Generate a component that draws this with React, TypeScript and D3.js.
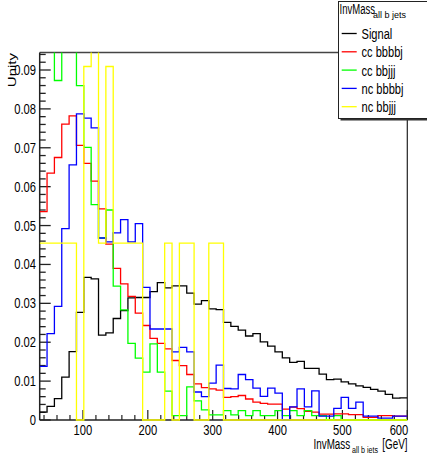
import React from "react";
import * as d3 from "d3";

// Histogram binning (GeV)
const X_MIN = 33.333;
const X_MAX = 600;
const N_BINS = 50;
const Y_MAX = 0.0945;

const seriesNames = ["Signal", "cc bbbbj", "cc bbjjj", "nc bbbbj", "nc bbjjj"];
const seriesColors = ["#000000", "#ff0000", "#00ff00", "#0000ff", "#ffff00"];

// Bin contents, normalised to unity
const signal = [
  0.002, 0.0035, 0.0055, 0.011, 0.0176, 0.0277, 0.0367, 0.0363, 0.0218, 0.0224,
  0.0261, 0.0281, 0.0314, 0.0315, 0.0315, 0.033, 0.0353, 0.034, 0.0345, 0.0345,
  0.0326, 0.0298, 0.0307, 0.0286, 0.0284, 0.0251, 0.0241, 0.0231, 0.0216, 0.0222,
  0.0201, 0.019, 0.0175, 0.016, 0.0148, 0.0151, 0.0133, 0.0133, 0.0118, 0.0104,
  0.0105, 0.0098, 0.0093, 0.0088, 0.0084, 0.0079, 0.0074, 0.0066, 0.0056, 0.0057,
];

const ccBBBBJ = [
  0.0536, 0.0635, 0.0675, 0.0761, 0.0782, 0.0706, 0.066, 0.0614, 0.0543, 0.0452,
  0.039, 0.035, 0.0318, 0.0275, 0.0243, 0.021, 0.0197, 0.0183, 0.0153, 0.014,
  0.0117, 0.0093, 0.0083, 0.008, 0.0077, 0.0058, 0.006, 0.0063, 0.0054, 0.0046,
  0.0043, 0.0041, 0.0041, 0.0028, 0.0033, 0.0029, 0.0022, 0.002, 0.0015, 0.0015,
  0.0016, 0.0016, 0.0014, 0.0014, 0.0007, 0.0007, 0.0011, 0.0011, 0.001, 0.001,
];

const ccBBJJJ = [
  0.098, 0.12, 0.0873, 0.1, 0.098, 0.086, 0.0701, 0.0554, 0.0468, 0.054,
  0.0344, 0.0283, 0.0197, 0.0159, 0.0123, 0.0196, 0.0123, 0.0074, 0.0011, 0.0011,
  0.0085, 0.0049, 0.0026, 0.0013, 0.0013, 0.0024, 0.0013, 0.0024, 0.0011, 0.0024,
  0.0011, 0.0011, 0.0024, 0.0011, 0.0024, 0.0011, 0.0024, 0.0011, 0.0011, 0.0,
  0.0011, 0, 0, 0, 0, 0, 0, 0, 0, 0,
];

const ncBBBBJ = [
  0.0138, 0.0222, 0.0292, 0.0492, 0.0656, 0.0787, 0.0776, 0.0751, 0.0468, 0.0458,
  0.0481, 0.0515, 0.0458, 0.0505, 0.0341, 0.0234, 0.0234, 0.0234, 0.0175, 0.0187,
  0.0175, 0.0072, 0.006, 0.0095, 0.0141, 0.0081, 0.008, 0.0117, 0.0104, 0.0082,
  0.0061, 0.0082, 0.0069, 0.0, 0.0034, 0.008, 0.0034, 0.0075, 0.001, 0.001,
  0.003, 0.0058, 0.003, 0.0046, 0.001, 0.001, 0.0005, 0.0005, 0.001, 0.001,
];

const ncBBJJJ = [
  0.0455, 0.0455, 0.0455, 0.0455, 0.0455, 0, 0.0909, 0.1364, 0.0455, 0.0909,
  0.0455, 0.0455, 0.0455, 0.0455, 0, 0, 0, 0.0455, 0, 0.0455,
  0.0455, 0, 0, 0.0455, 0.0455, 0, 0, 0, 0, 0,
  0, 0, 0, 0, 0, 0, 0, 0, 0, 0,
  0, 0, 0, 0, 0, 0, 0, 0, 0, 0,
];

const seriesValues = [signal, ccBBBBJ, ccBBJJJ, ncBBBBJ, ncBBJJJ];

const xTickValues = [100, 200, 300, 400, 500, 600];
const xTickLabels = ["100", "200", "300", "400", "500", "600"];
const yTickValues = [0, 0.01, 0.02, 0.03, 0.04, 0.05, 0.06, 0.07, 0.08, 0.09];
const yTickLabels = ["0", "0.01", "0.02", "0.03", "0.04", "0.05", "0.06", "0.07", "0.08", "0.09"];

const W = 427;
const H = 453;
const FRAME = { left: 39.7, right: 407.3, top: 52.5, bottom: 420 };
const FONT = "'Liberation Sans', Arial, Helvetica, sans-serif";

function SText(props: {
  x: number;
  y: number;
  sx: number;
  size: number;
  anchor?: string;
  children: React.ReactNode;
}) {
  const { x, y, sx, size, anchor = "start", children } = props;
  return (
    <text
      transform={`translate(${x},${y}) scale(${sx},1)`}
      fontSize={size}
      fontFamily={FONT}
      textAnchor={anchor}
      fill="#000"
    >
      {children}
    </text>
  );
}

export default function App() {
  const x = d3.scaleLinear().domain([X_MIN, X_MAX]).range([FRAME.left, FRAME.right]);
  const y = d3.scaleLinear().domain([0, Y_MAX]).range([FRAME.bottom, FRAME.top]);
  const edges = d3.range(N_BINS + 1).map((i) => X_MIN + (i * (X_MAX - X_MIN)) / N_BINS);

  const line = d3
    .line<[number, number]>()
    .x((d) => x(d[0]))
    .y((d) => y(d[1]));

  const histPath = (vals: number[]) => {
    const pts: [number, number][] = [];
    vals.forEach((v, i) => {
      pts.push([edges[i], v]);
      pts.push([edges[i + 1], v]);
    });
    return line(pts) || "";
  };

  const xMinor = d3.range(40, 600.01, 20).filter((v) => v % 100 !== 0);
  const yMinor = d3.range(0, Y_MAX, 0.002).filter((v) => Math.abs(v * 100 - Math.round(v * 100)) > 1e-6);

  const legendY = (i: number) => 33.5 + 18.3 * i;

  return (
    <svg
      width={W}
      height={H}
      viewBox={`0 0 ${W} ${H}`}
      style={{ position: "absolute", left: 0, top: 0, background: "#fff" }}
    >
      <defs>
        <clipPath id="plotClip">
          <rect
            x={FRAME.left}
            y={FRAME.top}
            width={FRAME.right - FRAME.left}
            height={FRAME.bottom - FRAME.top + 1}
          />
        </clipPath>
      </defs>
      <rect x={0} y={0} width={W} height={H} fill="#fff" />

      {/* frame */}
      <line x1={FRAME.left} x2={FRAME.right} y1={FRAME.top} y2={FRAME.top} stroke="#444" strokeWidth={1.5} />
      <line x1={FRAME.right} x2={FRAME.right} y1={FRAME.top} y2={FRAME.bottom} stroke="#222" strokeWidth={1.2} />

      {/* axes */}
      <line x1={FRAME.left} x2={FRAME.left} y1={FRAME.top} y2={FRAME.bottom} stroke="#222" strokeWidth={1.5} />
      <line x1={FRAME.left} x2={FRAME.right} y1={FRAME.bottom} y2={FRAME.bottom} stroke="#222" strokeWidth={1.5} />

      {yTickValues.map((v) => (
        <line key={`ym${v}`} x1={FRAME.left} x2={FRAME.left + 11} y1={y(v)} y2={y(v)} stroke="#222" strokeWidth={1.3} />
      ))}
      {yMinor.map((v) => (
        <line key={`yn${v}`} x1={FRAME.left} x2={FRAME.left + 6} y1={y(v)} y2={y(v)} stroke="#222" strokeWidth={1.3} />
      ))}
      {xTickValues.map((v) => (
        <line key={`xm${v}`} x1={x(v)} x2={x(v)} y1={FRAME.bottom} y2={FRAME.bottom - 10} stroke="#222" strokeWidth={1.2} />
      ))}
      {xMinor.map((v) => (
        <line key={`xn${v}`} x1={x(v)} x2={x(v)} y1={FRAME.bottom} y2={FRAME.bottom - 5} stroke="#222" strokeWidth={1.2} />
      ))}

      {yTickValues.map((v, i) => (
        <SText key={`yl${v}`} x={36} y={y(v) + 5} sx={0.8} size={14} anchor="end">
          {yTickLabels[i]}
        </SText>
      ))}
      {xTickValues.map((v, i) => (
        <SText
          key={`xl${v}`}
          x={i === xTickValues.length - 1 ? x(v) + 1 : x(v)}
          y={434.5}
          sx={0.8}
          size={14}
          anchor={i === xTickValues.length - 1 ? "end" : "middle"}
        >
          {xTickLabels[i]}
        </SText>
      ))}

      {/* histograms */}
      <g clipPath="url(#plotClip)">
        {seriesValues.map((vals, i) => (
          <path key={seriesNames[i]} d={histPath(vals)} fill="none" stroke={seriesColors[i]} strokeWidth={1.3} />
        ))}
      </g>

      {/* axis titles */}
      <SText x={313.5} y={449} sx={0.68} size={14.5}>InvMass</SText>
      <SText x={352} y={452.5} sx={0.79} size={9}>all b jets</SText>
      <SText x={407.5} y={449} sx={0.68} size={14.5} anchor="end">[GeV]</SText>

      <text
        transform="translate(16,53) rotate(-90) scale(1,0.7)"
        fontSize={15}
        fontFamily={FONT}
        textAnchor="end"
        fill="#000"
      >
        Unity
      </text>

      {/* legend */}
      <rect x={340.5} y={3.5} width={100} height={117} fill="#333" />
      <rect x={338.5} y={1.5} width={100} height={117} fill="#fff" stroke="#222" strokeWidth={1} />
      <SText x={339.5} y={14} sx={0.68} size={14}>InvMass</SText>
      <SText x={373} y={18} sx={1} size={9}>all b jets</SText>
      {seriesNames.map((name, i) => (
        <g key={`lg${name}`}>
          <line x1={341.7} x2={356.7} y1={legendY(i)} y2={legendY(i)} stroke={seriesColors[i]} strokeWidth={1.3} />
          <SText x={361.5} y={legendY(i) + 5.5} sx={0.74} size={15}>
            {name}
          </SText>
        </g>
      ))}
    </svg>
  );
}
